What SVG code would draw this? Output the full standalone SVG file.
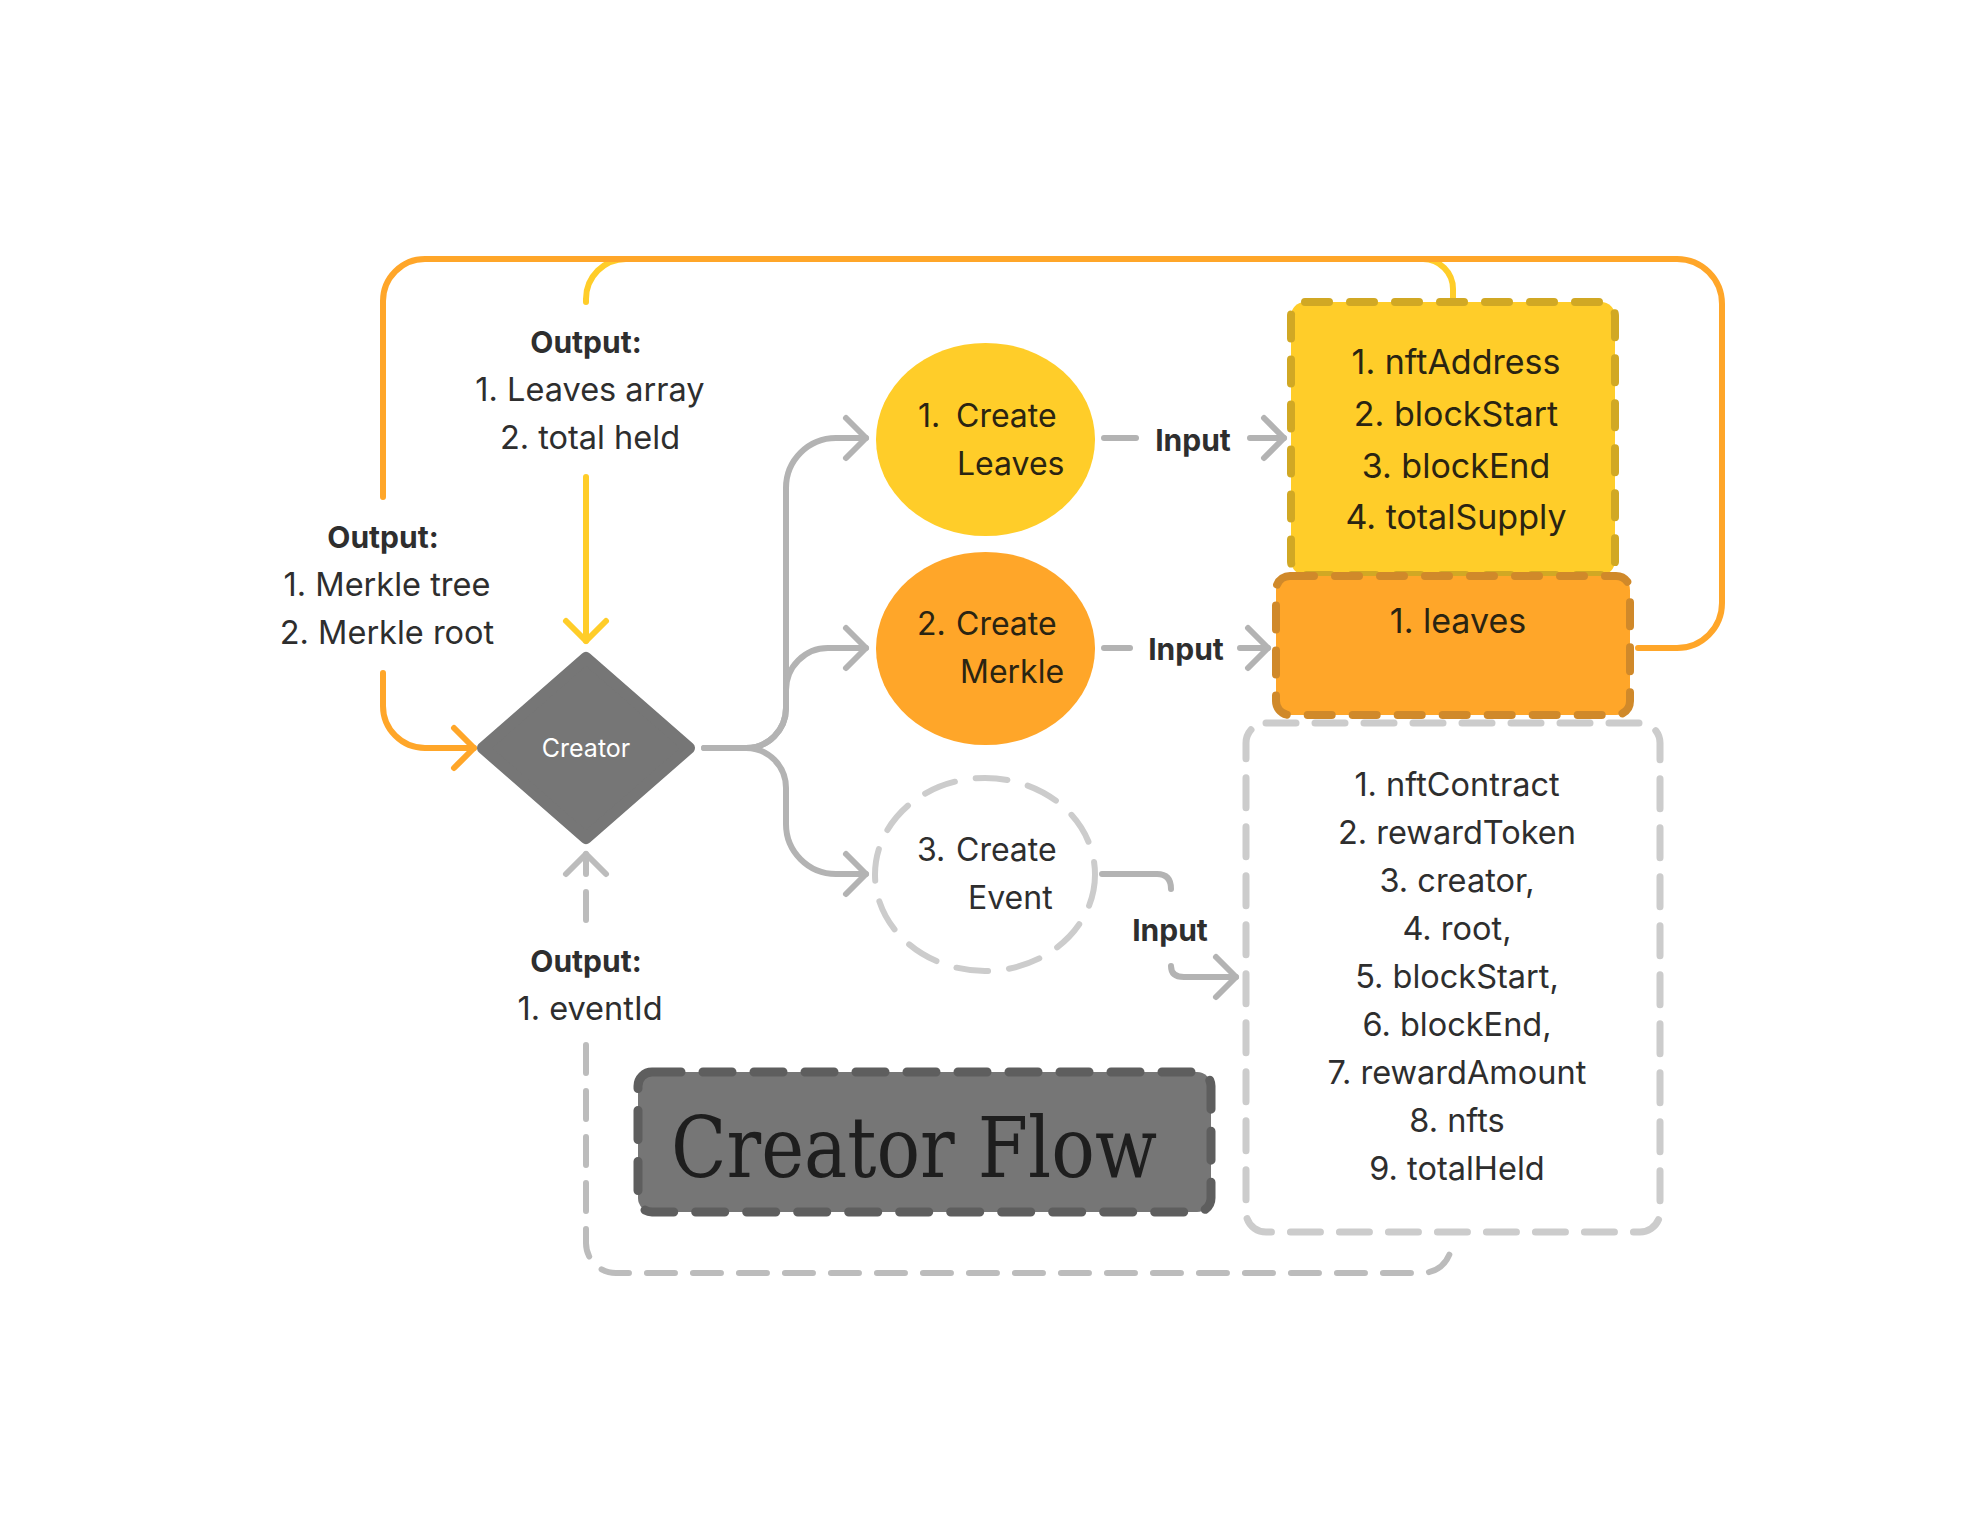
<svg xmlns="http://www.w3.org/2000/svg" width="1981" height="1533" viewBox="0 0 1981 1533">
<style>
.f{font-family:Inter,"Noto Sans","Liberation Sans",sans-serif}
.t{font-size:32px;fill:#2e2e2e}
.tc{font-size:32.5px;fill:#2e2e2e;text-anchor:middle}
.dk{font-size:32px;fill:#2a2412}
.dkc{font-size:34px;fill:#2a2412;text-anchor:middle}
.b{font-size:30px;font-weight:700;fill:#2e2e2e;text-anchor:middle}
.serif{font-family:"DejaVu Serif","Liberation Serif",serif;font-size:84px;fill:#1e1e1e}
.cg{stroke:#b3b3b3;stroke-width:6;fill:none;stroke-linecap:round;stroke-linejoin:round}
.cl{stroke:#bcbcbc;stroke-width:6;fill:none;stroke-linecap:round;stroke-linejoin:round;stroke-dasharray:28 18}
.co{stroke:#ffa629;stroke-width:6;fill:none;stroke-linecap:round;stroke-linejoin:round}
.cy{stroke:#ffcd29;stroke-width:6;fill:none;stroke-linecap:round;stroke-linejoin:round}
</style>
<defs>
<marker id="ag" markerUnits="userSpaceOnUse" viewBox="-28 -28 36 56" markerWidth="36" markerHeight="56" refX="0" refY="0" orient="auto" overflow="visible"><path d="M-20,-20 L0,0 L-20,20" fill="none" stroke="#b3b3b3" stroke-width="6" stroke-linecap="round" stroke-linejoin="round"/></marker>
<marker id="al" markerUnits="userSpaceOnUse" viewBox="-28 -28 36 56" markerWidth="36" markerHeight="56" refX="0" refY="0" orient="auto" overflow="visible"><path d="M-20,-20 L0,0 L-20,20" fill="none" stroke="#bcbcbc" stroke-width="6" stroke-linecap="round" stroke-linejoin="round"/></marker>
<marker id="ao" markerUnits="userSpaceOnUse" viewBox="-28 -28 36 56" markerWidth="36" markerHeight="56" refX="0" refY="0" orient="auto" overflow="visible"><path d="M-20,-20 L0,0 L-20,20" fill="none" stroke="#ffa629" stroke-width="6" stroke-linecap="round" stroke-linejoin="round"/></marker>
<marker id="ay" markerUnits="userSpaceOnUse" viewBox="-28 -28 36 56" markerWidth="36" markerHeight="56" refX="0" refY="0" orient="auto" overflow="visible"><path d="M-20,-20 L0,0 L-20,20" fill="none" stroke="#ffcd29" stroke-width="6" stroke-linecap="round" stroke-linejoin="round"/></marker>
</defs>
<rect width="1981" height="1533" fill="#ffffff"/>

<g id="connectors">
<path class="cy" d="M586,302 V299 A40,40 0 0 1 626,259 H1423 A30,30 0 0 1 1453,289 V300"/>
<path class="cy" d="M586,477 V641" marker-end="url(#ay)"/>
<path class="co" d="M1638,648 H1677 A45,45 0 0 0 1722,603 V304 A45,45 0 0 0 1677,259 H425 A42,42 0 0 0 383,301 V497"/>
<path class="co" d="M383,673 V706 A42,42 0 0 0 425,748 H474" marker-end="url(#ao)"/>
<path class="cg" d="M704,748 H746 A40,40 0 0 0 786,708 V488 A50,50 0 0 1 836,438 H866" marker-end="url(#ag)"/>
<path class="cg" d="M746,748 A40,40 0 0 0 786,708 V690 A42,42 0 0 1 828,648 H866" marker-end="url(#ag)"/>
<path class="cg" d="M704,748 H746 A40,40 0 0 1 786,788 V824 A50,50 0 0 0 836,874 H866" marker-end="url(#ag)"/>
<path class="cg" d="M1104,438 H1136"/>
<path class="cg" d="M1250,438 H1284" marker-end="url(#ag)"/>
<path class="cg" d="M1104,648 H1130"/>
<path class="cg" d="M1240,648 H1268" marker-end="url(#ag)"/>
<path class="cg" d="M1102,874 H1157 Q1171,874 1171,889"/>
<path class="cg" d="M1171,966 Q1171,977 1184,977 H1236" marker-end="url(#ag)"/>
<path class="cl" d="M586,1045 V1243 A30,30 0 0 0 616,1273 H1420 Q1449,1273 1453,1240"/>
<path class="cl" d="M586,920 V854" marker-end="url(#al)"/>
<text class="f b" x="1193" y="451">Input</text>
<text class="f b" x="1186" y="660">Input</text>
<text class="f b" x="1170" y="941">Input</text>
</g>

<g id="out-leaves">
<text class="f b" x="586" y="353">Output:</text>
<text class="f tc" x="590" y="401">1. Leaves array</text>
<text class="f tc" x="590" y="449">2. total held</text>
</g>
<g id="out-merkle">
<text class="f b" x="383" y="548">Output:</text>
<text class="f tc" x="387" y="596">1. Merkle tree</text>
<text class="f tc" x="387" y="644">2. Merkle root</text>
</g>
<g id="out-event">
<text class="f b" x="586" y="972">Output:</text>
<text class="f tc" x="590" y="1020">1. eventId</text>
</g>

<g id="creator">
<polygon points="586,658 689,748 586,838 483,748" fill="#767676" stroke="#767676" stroke-width="12" stroke-linejoin="round"/>
<text class="f" x="586" y="757" font-size="25" fill="#ffffff" text-anchor="middle">Creator</text>
</g>

<g id="create-leaves">
<ellipse cx="985.5" cy="439.5" rx="109.5" ry="96.5" fill="#ffcd29"/>
<text class="f dk" x="918" y="427">1.</text>
<text class="f dk" x="956" y="427">Create</text>
<text class="f dk" x="957" y="475">Leaves</text>
</g>
<g id="create-merkle">
<ellipse cx="985.5" cy="648.5" rx="109.5" ry="96.5" fill="#ffa629"/>
<text class="f dk" x="917" y="635">2.</text>
<text class="f dk" x="956" y="635">Create</text>
<text class="f dk" x="960" y="683">Merkle</text>
</g>
<g id="create-event">
<ellipse cx="985" cy="874.5" rx="110" ry="96.5" fill="#ffffff" stroke="#cccccc" stroke-width="6" stroke-dasharray="32 21" stroke-linecap="round"/>
<text class="f t" x="917" y="861">3.</text>
<text class="f t" x="956" y="861">Create</text>
<text class="f t" x="968" y="909">Event</text>
</g>

<g id="leaves-inputs">
<rect x="1291" y="302" width="324" height="273" rx="14" fill="#ffcd29" stroke="#d1a824" stroke-width="8" stroke-dasharray="24 21" stroke-linecap="round"/>
<text class="f dkc" x="1456" y="374">1. nftAddress</text>
<text class="f dkc" x="1456" y="426">2. blockStart</text>
<text class="f dkc" x="1456" y="478">3. blockEnd</text>
<text class="f dkc" x="1456" y="529">4. totalSupply</text>
</g>
<g id="merkle-inputs">
<rect x="1276" y="576" width="354" height="139" rx="14" fill="#ffa629" stroke="#d0892a" stroke-width="8" stroke-dasharray="24 21" stroke-linecap="round"/>
<text class="f dkc" x="1458" y="633">1. leaves</text>
</g>
<g id="event-inputs">
<rect x="1246" y="723" width="414" height="509" rx="20" fill="#ffffff" stroke="#cccccc" stroke-width="7" stroke-dasharray="30 19" stroke-linecap="round"/>
<text class="f tc" x="1457" y="796">1. nftContract</text>
<text class="f tc" x="1457" y="844">2. rewardToken</text>
<text class="f tc" x="1457" y="892">3. creator,</text>
<text class="f tc" x="1457" y="940">4. root,</text>
<text class="f tc" x="1457" y="988">5. blockStart,</text>
<text class="f tc" x="1457" y="1036">6. blockEnd,</text>
<text class="f tc" x="1457" y="1084">7. rewardAmount</text>
<text class="f tc" x="1457" y="1132">8. nfts</text>
<text class="f tc" x="1457" y="1180">9. totalHeld</text>
</g>

<g id="title">
<rect x="638" y="1072" width="573" height="140" rx="14" fill="#767676" stroke="#5e5e5e" stroke-width="9" stroke-dasharray="29 22" stroke-linecap="round"/>
<text class="serif" x="671" y="1177" textLength="486" lengthAdjust="spacingAndGlyphs">Creator Flow</text>
</g>
</svg>
